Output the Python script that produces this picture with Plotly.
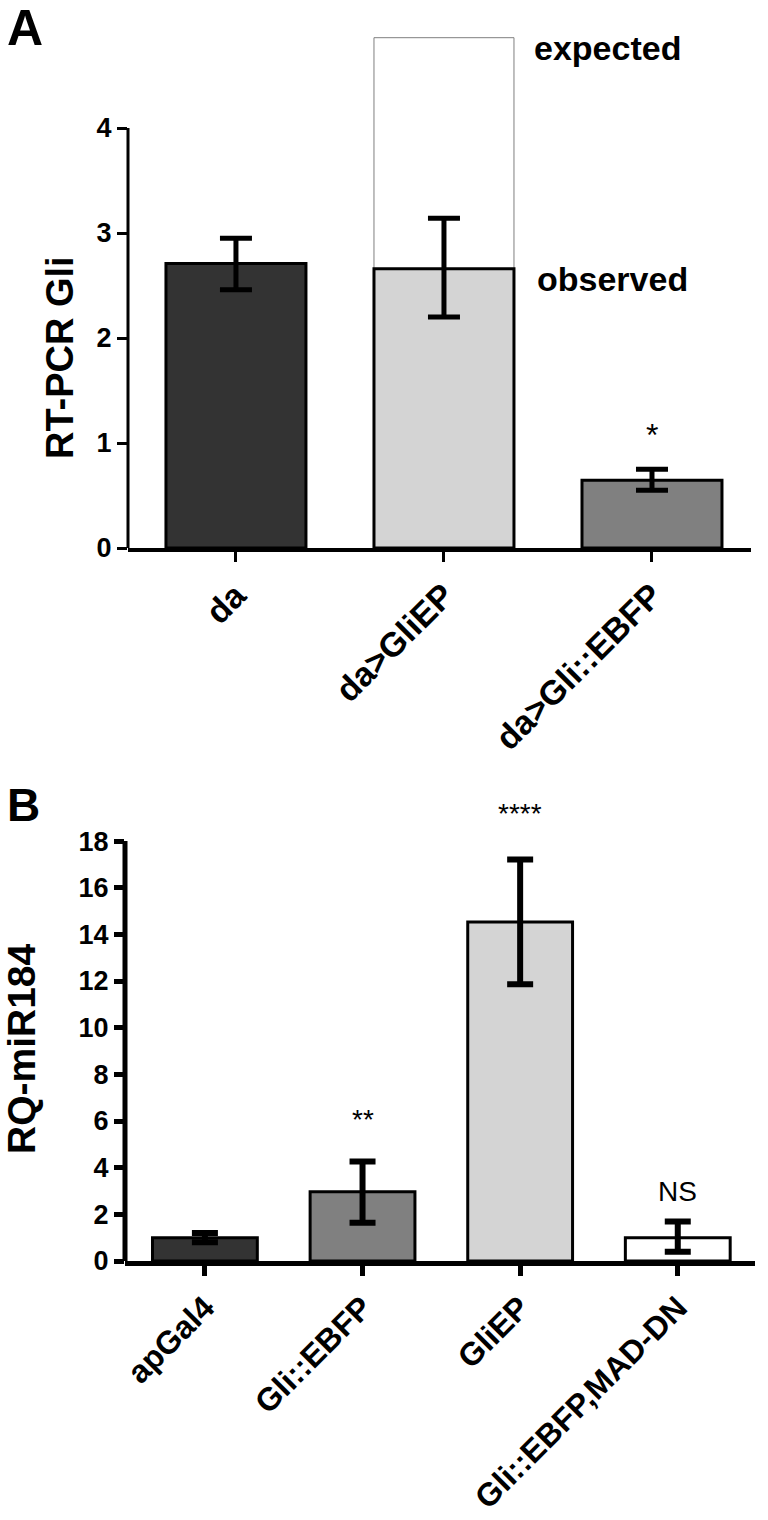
import plotly.graph_objects as go

# ---------------- Panel A data ----------------
cats_a = ["da", "da>GliEP", "da>Gli::EBFP"]
obs_a = [2.71, 2.66, 0.645]
err_hi_a = [2.95, 3.14, 0.75]
err_lo_a = [2.46, 2.20, 0.55]
expected_a = [None, 4.86, None]
colors_a = ["#333333", "#d4d4d4", "#808080"]
sig_a = ["", "", "*"]
sig_a_y = [None, None, 1.08]
yticks_a = [0, 1, 2, 3, 4]

# ---------------- Panel B data ----------------
cats_b = ["apGal4", "Gli::EBFP", "GliEP", "Gli::EBFP,MAD-DN"]
vals_b = [1.0, 2.97, 14.53, 1.0]
err_hi_b = [1.2, 4.26, 17.21, 1.69]
err_lo_b = [0.8, 1.64, 11.86, 0.40]
colors_b = ["#333333", "#808080", "#d4d4d4", "#ffffff"]
sig_b = ["", "**", "****", "NS"]
sig_b_y = [None, 6.07, 19.2, 3.0]
yticks_b = [0, 2, 4, 6, 8, 10, 12, 14, 16, 18]

FONT = "Liberation Sans, Arial, sans-serif"
W, H = 768, 1520

fig = go.Figure()

# expected (outline) bar on top of observed
exp_x = [c for c, e in zip(cats_a, expected_a) if e is not None]
exp_base = [o for o, e in zip(obs_a, expected_a) if e is not None]
exp_h = [e - o for o, e in zip(obs_a, expected_a) if e is not None]
fig.add_trace(go.Bar(
    x=exp_x, y=exp_h, base=exp_base, width=0.673,
    marker=dict(color="white", line=dict(color="#7f7f7f", width=1)),
    xaxis="x", yaxis="y", showlegend=False, hoverinfo="skip"))

fig.add_trace(go.Bar(
    x=cats_a, y=obs_a, width=0.673,
    marker=dict(color=colors_a, line=dict(color="black", width=3)),
    error_y=dict(type="data", symmetric=False,
                 array=[h - v for h, v in zip(err_hi_a, obs_a)],
                 arrayminus=[v - l for l, v in zip(err_lo_a, obs_a)],
                 color="black", thickness=5, width=16),
    xaxis="x", yaxis="y", showlegend=False))

fig.add_trace(go.Bar(
    x=cats_b, y=vals_b, width=0.665,
    marker=dict(color=colors_b, line=dict(color="black", width=3)),
    error_y=dict(type="data", symmetric=False,
                 array=[h - v for h, v in zip(err_hi_b, vals_b)],
                 arrayminus=[v - l for l, v in zip(err_lo_b, vals_b)],
                 color="black", thickness=6, width=13),
    xaxis="x2", yaxis="y2", showlegend=False))

ann = []
for c, s, y in zip(cats_a, sig_a, sig_a_y):
    if s:
        ann.append(dict(x=c, y=y, xref="x", yref="y", text=s, showarrow=False,
                        font=dict(family=FONT, size=32, color="black")))
for c, s, y in zip(cats_b, sig_b, sig_b_y):
    if s:
        ann.append(dict(x=c, y=y, xref="x2", yref="y2", text=s, showarrow=False,
                        font=dict(family=FONT, size=28, color="black")))

ann += [
    dict(x=1.423, y=4.76, xref="x", yref="y", text="<b>expected</b>", showarrow=False,
         xanchor="left", yanchor="middle", font=dict(family=FONT, size=34, color="black")),
    dict(x=1.438, y=2.56, xref="x", yref="y", text="<b>observed</b>", showarrow=False,
         xanchor="left", yanchor="middle", font=dict(family=FONT, size=34, color="black")),
    dict(x=5 / W, y=1 - 28 / H, xref="paper", yref="paper", text="<b>A</b>", showarrow=False,
         xanchor="left", yanchor="middle", font=dict(family=FONT, size=50, color="black")),
    dict(x=5 / W, y=1 - 805 / H, xref="paper", yref="paper", text="<b>B</b>", showarrow=False,
         xanchor="left", yanchor="middle", font=dict(family=FONT, size=46, color="black")),
    dict(x=60 / W, y=1 - 358 / H, xref="paper", yref="paper", text="<b>RT-PCR Gli</b>",
         showarrow=False, textangle=-90, xanchor="center", yanchor="middle",
         font=dict(family=FONT, size=38, color="black")),
    dict(x=21 / W, y=1 - 1049 / H, xref="paper", yref="paper", text="<b>RQ-miR184</b>",
         showarrow=False, textangle=-90, xanchor="center", yanchor="middle",
         font=dict(family=FONT, size=39, color="black")),
]

tickfont = dict(family=FONT, size=27, color="black", weight="bold")
catfont_a = dict(family=FONT, size=34, color="black", weight="bold")
catfont_b = dict(family=FONT, size=32, color="black", weight="bold")

# pixel geometry of the panels (y=0 line and unit scale)
A_zero, A_unit = 548, 105.0
B_zero, B_unit = 1261, 23.33
A_top_val, B_top_val = 5, 20

fig.update_layout(
    width=W, height=H, margin=dict(l=0, r=0, t=0, b=0, autoexpand=False),
    paper_bgcolor="white", plot_bgcolor="white",
    barmode="overlay", annotations=ann,
    xaxis=dict(domain=[128 / W, 751 / W], range=[-0.519, 2.476], type="category",
               categoryorder="array", categoryarray=cats_a, automargin=False,
               showline=True, linecolor="black", linewidth=4,
               ticks="outside", ticklen=10, tickwidth=3, tickcolor="black",
               tickangle=-45, tickfont=catfont_a, showgrid=False, zeroline=False,
               anchor="y"),
    yaxis=dict(domain=[1 - A_zero / H, 1 - (A_zero - A_top_val * A_unit) / H],
               range=[0, A_top_val], automargin=False,
               tickvals=yticks_a, ticktext=[str(v) for v in yticks_a],
               showline=False, ticks="outside", ticklen=10, tickwidth=3, tickcolor="black",
               tickfont=tickfont, showgrid=False, zeroline=False, anchor="x"),
    xaxis2=dict(domain=[125 / W, 755 / W], range=[-0.507, 3.49], type="category",
                categoryorder="array", categoryarray=cats_b, automargin=False,
                showline=True, linecolor="black", linewidth=5,
                ticks="outside", ticklen=10, tickwidth=5, tickcolor="black",
                tickangle=-45, tickfont=catfont_b, showgrid=False, zeroline=False,
                anchor="y2"),
    yaxis2=dict(domain=[1 - B_zero / H, 1 - (B_zero - B_top_val * B_unit) / H],
                range=[0, B_top_val], automargin=False,
                tickvals=yticks_b, ticktext=[str(v) for v in yticks_b],
                showline=False, ticks="outside", ticklen=10, tickwidth=5, tickcolor="black",
                tickfont=tickfont, showgrid=False, zeroline=False, anchor="x2"),
    shapes=[
        dict(type="line", xref="x domain", yref="y", x0=0, x1=0, y0=0, y1=yticks_a[-1],
             line=dict(color="black", width=3), layer="above"),
        dict(type="line", xref="x2 domain", yref="y2", x0=0, x1=0, y0=0, y1=yticks_b[-1],
             line=dict(color="black", width=5), layer="above"),
    ],
)

fig.write_html("out.html", config={"displayModeBar": False},
               post_script="document.body.style.margin='0px';document.body.style.overflow='hidden';")
